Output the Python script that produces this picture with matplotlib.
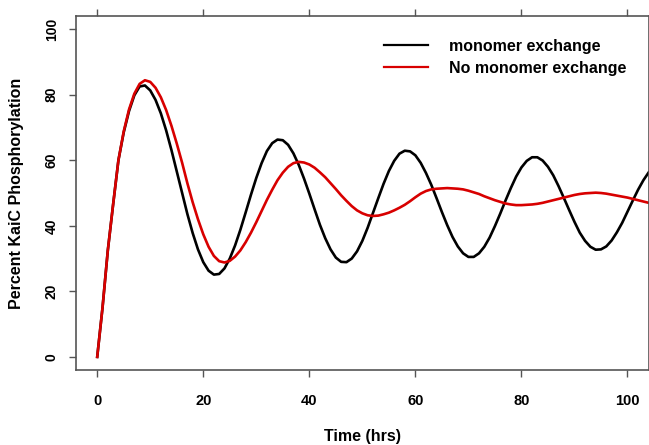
import matplotlib
matplotlib.use('Agg')
import matplotlib.pyplot as plt

plt.rcParams['font.family'] = ['Liberation Sans', 'DejaVu Sans']
plt.rcParams['font.weight'] = 'bold'

time_hrs = list(range(0, 105))

monomer_exchange = [
    0, 15, 32.5, 46.5, 60, 68.5, 75, 79.8, 82.5, 82.8,
    81.3, 78.4, 74.3, 69.1, 63.1, 56.6, 50.1, 43.6, 37.8, 32.8,
    28.9, 26.3, 25.1, 25.3, 27.0, 30.0, 34.0, 38.8, 44.1, 49.5,
    54.6, 59.1, 62.8, 65.2, 66.3, 66.1, 64.7, 62.1, 58.6, 54.4,
    49.8, 45.0, 40.3, 36.2, 32.8, 30.3, 29.0, 28.9, 30.0, 32.2,
    35.4, 39.4, 43.9, 48.4, 52.8, 56.7, 59.8, 62.0, 62.9, 62.7,
    61.5, 59.2, 56.1, 52.5, 48.4, 44.2, 40.2, 36.6, 33.7, 31.6,
    30.5, 30.5, 31.6, 33.6, 36.4, 39.9, 43.7, 47.7, 51.5, 55.0,
    57.8, 59.8, 60.9, 60.9, 59.9, 58.0, 55.4, 52.1, 48.5, 44.8,
    41.2, 37.9, 35.4, 33.6, 32.7, 32.8, 33.7, 35.5, 38.0, 40.9,
    44.3, 47.7, 51.0, 53.9, 56.3,
]

no_monomer_exchange = [
    0, 15, 32.5, 46.5, 60, 68.8, 75.5, 80.3, 83.3, 84.4,
    83.9, 82.1, 79.2, 75.3, 70.5, 65.1, 59.3, 53.0, 47.2, 42.0,
    37.4, 33.6, 30.8, 29.2, 28.8, 29.3, 30.6, 32.5, 35.0, 37.9,
    41.1, 44.5, 47.9, 51.0, 53.9, 56.2, 58.0, 59.1, 59.5, 59.3,
    58.7, 57.7, 56.3, 54.8, 53.0, 51.2, 49.3, 47.6, 46.0, 44.7,
    43.8, 43.2, 43.0, 43.1, 43.5, 44.0, 44.7, 45.5, 46.4, 47.5,
    48.7, 49.8, 50.6, 51.1, 51.3, 51.4, 51.5, 51.4, 51.3, 51.1,
    50.7, 50.2, 49.7, 49.0, 48.4, 47.8, 47.3, 46.8, 46.5, 46.3,
    46.3, 46.4, 46.5, 46.7, 47.0, 47.4, 47.8, 48.2, 48.6, 49.0,
    49.4, 49.7, 49.9, 50.0, 50.1, 50.0, 49.8, 49.5, 49.2, 48.9,
    48.6, 48.2, 47.8, 47.4, 47.0,
]

x_ticks = [0, 20, 40, 60, 80, 100]
y_ticks = [0, 20, 40, 60, 80, 100]
series_labels = ['monomer exchange', 'No monomer exchange']
series_colors = ['#000000', '#d80000']

W, H = 649, 445
fig = plt.figure(figsize=(W / 100, H / 100), dpi=100)
left, right, top, bottom = 76, 648.7, 16, 370
ax = fig.add_axes([left / W, 1 - bottom / H, (right - left) / W, (bottom - top) / H])

ax.plot(time_hrs, monomer_exchange, color=series_colors[0], lw=1.9, label=series_labels[0])
ax.plot(time_hrs, no_monomer_exchange, color=series_colors[1], lw=1.9, label=series_labels[1])

ax.set_xlim(-4, 104)
ax.set_ylim(-4, 104)
ax.set_xticks(x_ticks)
ax.set_yticks(y_ticks)
ax.set_xticklabels([str(v) for v in x_ticks], fontsize=10.5, fontweight='bold')
ax.set_yticklabels([str(v) for v in y_ticks], fontsize=10, fontweight='bold',
                   rotation=90, va='center')

spine_col = '#555555'
for s in ax.spines.values():
    s.set_color(spine_col)
    s.set_linewidth(1.2)
ax.tick_params(direction='out', length=5, width=1, color=spine_col,
               top=True, right=True, labeltop=False, labelright=False)
ax.tick_params(axis='x', pad=12)
ax.tick_params(axis='y', pad=7.5)

fig.text(362 / W, 1 - 437 / H, 'Time (hrs)', ha='center', va='center',
         fontsize=11.5, fontweight='bold')
fig.text(17 / W, 1 - 193 / H, 'Percent KaiC Phosphorylation', ha='center', va='center',
         rotation=90, fontsize=11.5, fontweight='bold')

leg = ax.legend(loc='upper left', bbox_to_anchor=((384 - left) / (right - left), (bottom - 39) / (bottom - top)),
                frameon=False, borderpad=0, borderaxespad=0,
                handlelength=2.75, handletextpad=1.35, labelspacing=0.42,
                prop={'weight': 'bold', 'size': 11.5})
for ln in leg.get_lines():
    ln.set_linewidth(1.6)

fig.savefig('out.png', dpi=100)
